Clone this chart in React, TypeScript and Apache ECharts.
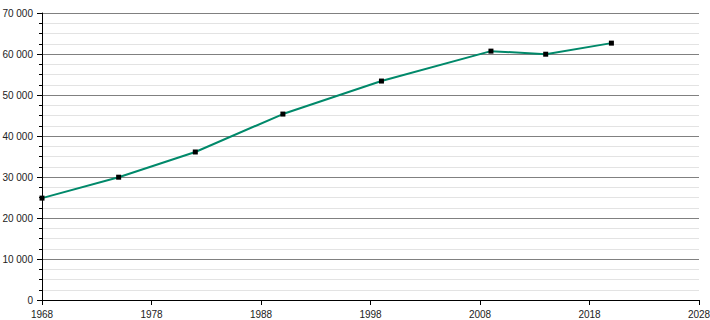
import React, { useEffect, useRef } from "react";
import * as echarts from "echarts";

const years = [1968, 1975, 1982, 1990, 1999, 2009, 2014, 2020];
const population = [24850, 29950, 36100, 45350, 53400, 60700, 59950, 62650];
const baseYear = 1968;
const endYear = 2028;

const fmtThousands = (v: number) =>
  String(v).replace(/\B(?=(\d{3})+(?!\d))/g, " ");

export default function App() {
  const ref = useRef<HTMLDivElement>(null);
  useEffect(() => {
    if (!ref.current) return;
    const chart = echarts.init(ref.current, undefined, { renderer: "svg" });
    const data = years.map((y, i) => [y - baseYear, population[i]]);
    chart.setOption({
      animation: false,
      grid: {
        left: 42,
        right: 11,
        top: 13,
        bottom: 20,
        containLabel: false,
        outerBoundsMode: "none",
      },
      xAxis: {
        type: "value",
        min: 0,
        max: endYear - baseYear,
        interval: 10,
        axisLine: { show: true, lineStyle: { color: "#000", width: 1 } },
        axisTick: { show: true, length: 5, lineStyle: { color: "#000" } },
        axisLabel: {
          color: "#222",
          fontSize: 10,
          fontFamily: "Liberation Sans, Arial, sans-serif",
          margin: 9,
          formatter: (v: number) => String(v + baseYear),
        },
        splitLine: { show: false },
      },
      yAxis: {
        type: "value",
        min: 0,
        max: 70000,
        interval: 10000,
        axisLine: { show: true, lineStyle: { color: "#000", width: 1 } },
        axisTick: { show: true, length: 5, lineStyle: { color: "#000" } },
        minorTick: { show: true, splitNumber: 4, length: 3, lineStyle: { color: "#000" } },
        axisLabel: {
          color: "#222",
          fontSize: 10,
          fontFamily: "Liberation Sans, Arial, sans-serif",
          margin: 9,
          formatter: (v: number) => fmtThousands(v),
        },
        splitLine: { show: true, lineStyle: { color: "#808080", width: 1 } },
        minorSplitLine: { show: true, lineStyle: { color: "#e3e3e3", width: 1 } },
      },
      series: [
        {
          type: "line",
          data,
          lineStyle: { color: "#00896a", width: 2 },
          itemStyle: { color: "#000" },
          symbol: "rect",
          symbolSize: 5,
          showSymbol: true,
          z: 3,
        },
      ],
    });
    return () => chart.dispose();
  }, []);
  return (
    <div
      ref={ref}
      style={{ position: "absolute", left: 0, top: 0, width: 710, height: 320, background: "#fff" }}
    />
  );
}
